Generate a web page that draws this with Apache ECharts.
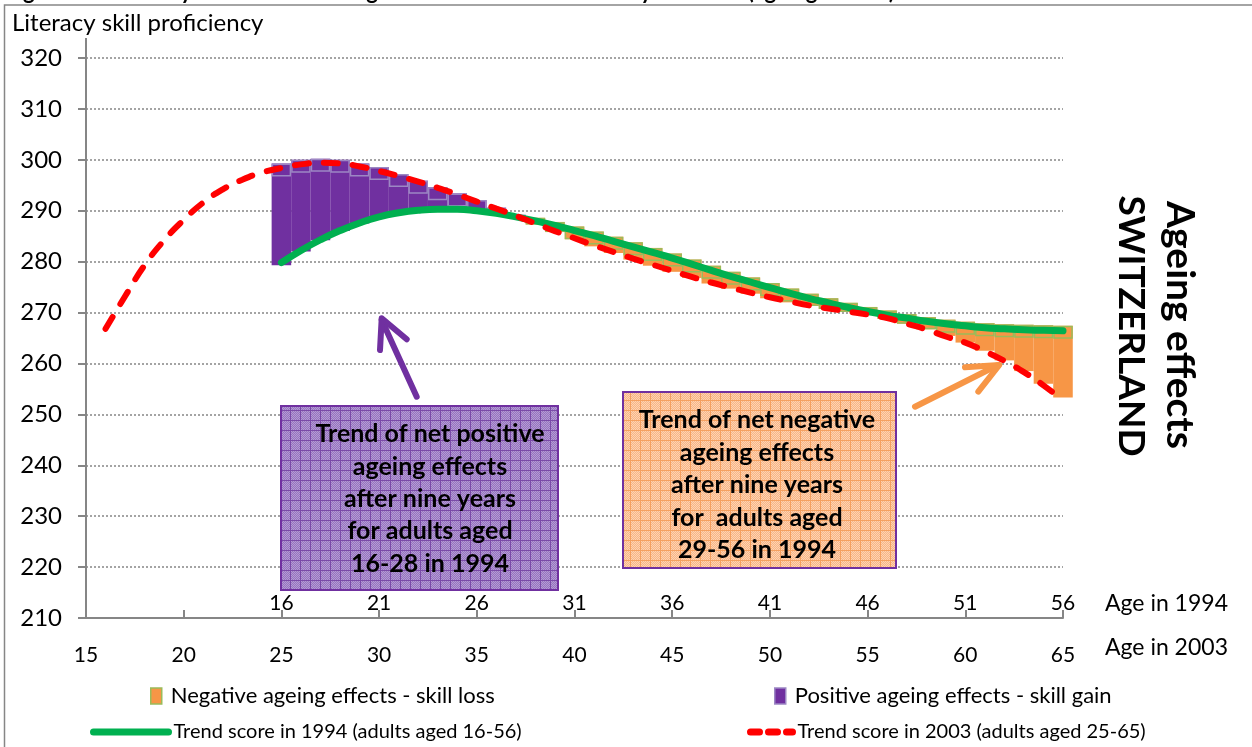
<!DOCTYPE html>
<html>
<head>
<meta charset="utf-8">
<script src="https://cdn.jsdelivr.net/npm/echarts@6/dist/echarts.min.js"></script>
<style>
html,body{margin:0;padding:0;background:#fff;}
#chart{width:1252px;height:747px;}
</style>
</head>
<body>
<div id="chart"></div>
<script>
// ---- Data ----
// Trend score in 2003 by age in 2003
const ages2003 = [16,17,18,19,20,21,22,23,24,25,26,27,28,29,30,31,32,33,34,35,36,37,38,39,40,41,42,43,44,45,46,47,48,49,50,51,52,53,54,55,56,57,58,59,60,61,62,63,64,65];
const trend2003 = [266.8,273.2,279.3,284.2,288.2,291.6,294.2,296.1,297.5,298.4,299.1,299.4,299.3,298.7,297.8,296.8,295.7,294.5,293.2,291.8,290.4,289.0,287.5,286.0,284.6,283.2,281.9,280.6,279.4,278.2,277.0,275.9,274.9,273.9,273.0,272.2,271.4,270.8,270.2,269.6,268.9,267.8,266.7,265.3,264.1,262.4,260.5,258.3,255.7,252.7];
// Trend score in 1994 by age in 1994
const ages1994 = [16,17,18,19,20,21,22,23,24,25,26,27,28,29,30,31,32,33,34,35,36,37,38,39,40,41,42,43,44,45,46,47,48,49,50,51,52,53,54,55,56];
const trend1994 = [279.8,282.2,284.3,286.1,287.6,288.8,289.6,290.1,290.3,290.3,290.0,289.5,288.8,288.0,287.1,286.1,285.1,284.0,282.9,281.8,280.7,279.5,278.3,277.1,276.0,274.9,273.8,272.8,271.9,271.0,270.2,269.5,268.9,268.3,267.8,267.4,267.0,266.8,266.6,266.5,266.4];
// Positive ageing effects (skill gain) columns, by age in 2003
const gainAges = [25,26,27,28,29,30,31,32,33,34,35,36,37];
const gainBottom = [279.3,282.0,284.2,286.0,287.5,288.7,289.5,290.0,290.2,290.2,289.9,289.4,288.7];
const gainTop = [299.3,300.0,300.2,300.0,299.3,298.6,297.2,295.9,294.6,293.4,292.1,290.6,289.2];
// Negative ageing effects (skill loss) columns, by age in 2003
const lossAges = [38,39,40,41,42,43,44,45,46,47,48,49,50,51,52,53,54,55,56,57,58,59,60,61,62,63,64,65];
const lossBottom = [287.3,285.8,284.4,283.0,281.7,280.4,279.2,278.0,276.8,275.7,274.7,273.7,272.8,272.0,271.3,270.7,270.1,269.5,268.8,267.8,266.7,265.4,264.1,262.5,260.6,258.5,256.0,253.3];
const lossTop = [288.6,287.8,286.9,285.9,284.9,283.8,282.7,281.6,280.4,279.2,278.0,276.9,275.8,274.7,273.7,272.8,271.9,271.1,270.4,269.7,269.1,268.6,268.2,267.9,267.7,267.6,267.5,267.4];
// Tick labels
const ageTicks2003 = [15,20,25,30,35,40,45,50,55,60,65];
const ageTicks1994 = [16,21,26,31,36,41,46,51,56];
const yTicks = [210,220,230,240,250,260,270,280,290,300,310,320];

const NAME_LOSS = 'Negative ageing effects - skill loss';
const NAME_GAIN = 'Positive ageing effects - skill gain';
const NAME_1994 = 'Trend score in 1994 (adults aged 16-56)';
const NAME_2003 = 'Trend score in 2003 (adults aged 25-65)';

// ---- Build series data ----
const gainData = gainAges.map((a, i) => [a, gainBottom[i], gainTop[i]]);
const lossData = lossAges.map((a, i) => [a, lossBottom[i], lossTop[i]]);
const line2003 = ages2003.map((a, i) => [a, trend2003[i]]);
const line1994 = ages1994.map((a, i) => [a, trend1994[i]]);

function makePattern(bg, dot, grid) {
  const c = document.createElement('canvas');
  c.width = 10; c.height = 10;
  const ctx = c.getContext('2d');
  ctx.fillStyle = bg; ctx.fillRect(0, 0, 10, 10);
  ctx.fillStyle = dot;
  for (let x = 0; x < 10; x++) for (let y = 0; y < 10; y++) if ((x + y) % 2 === 0) ctx.fillRect(x, y, 1, 1);
  ctx.fillStyle = grid;
  ctx.fillRect(0, 0, 10, 1); ctx.fillRect(0, 0, 1, 10);
  return c;
}
const purplePat = makePattern('#9674bf', '#b49bd4', '#7a4aa8');
const orangePat = makePattern('#f9b585', '#fcd3b3', '#f5a060');

const FONT = 'Lato, "Open Sans", sans-serif';
const GRAY = '#868686';

// each column: filled body from bottom to top, with a lighter outlined cap at its top
function columnRenderer(fill, stroke) {
  return function (params, api) {
    const x = api.value(0);
    const p1 = api.coord([x - 0.5, api.value(2)]);
    const p2 = api.coord([x + 0.5, api.value(1)]);
    const w = p2[0] - p1[0], h = p2[1] - p1[1];
    const capH = Math.min(13, h);
    return {
      type: 'group',
      children: [
        {type: 'rect', shape: {x: p1[0], y: p1[1], width: w, height: h}, style: {fill: fill}},
        {type: 'rect', shape: {x: p1[0] + 0.75, y: p1[1] + 0.75, width: w - 1.5, height: Math.max(capH - 1.5, 0.5)},
          style: {fill: null, stroke: stroke, lineWidth: 1.5}}
      ]
    };
  };
}

const chart = echarts.init(document.getElementById('chart'), null, {renderer: 'canvas'});
const legendText1 = {fontFamily: FONT, fontSize: 22, color: '#000'};
const legendText2 = {fontFamily: FONT, fontSize: 20, color: '#000'};

chart.setOption({
  animation: false,
  backgroundColor: '#fff',
  textStyle: {fontFamily: FONT},
  grid: {left: 86, right: 189, top: 58, bottom: 129, containLabel: false},
  xAxis: [{
    type: 'value', position: 'bottom', min: 15, max: 65, interval: 5,
    name: 'Age in 2003', nameLocation: 'end', nameGap: 42,
    nameTextStyle: {fontFamily: FONT, fontSize: 23, color: '#000', verticalAlign: 'top', padding: [18, 0, 0, 0]},
    axisLine: {show: true, lineStyle: {color: GRAY, width: 2}},
    axisTick: {show: true, inside: true, length: 8, lineStyle: {color: GRAY, width: 2}},
    axisLabel: {fontFamily: FONT, fontSize: 21, color: '#000', margin: 27,
      formatter: v => ageTicks2003.indexOf(v) >= 0 ? String(v) : ''},
    splitLine: {show: false}
  }, {
    type: 'value', position: 'bottom', min: 6, max: 56, interval: 5,
    name: 'Age in 1994', nameLocation: 'end', nameGap: 42,
    nameTextStyle: {fontFamily: FONT, fontSize: 23, color: '#000', verticalAlign: 'bottom', padding: [0, 0, 3, 0]},
    axisLine: {show: false}, axisTick: {show: false}, splitLine: {show: false},
    axisLabel: {inside: true, margin: 4, fontFamily: FONT, fontSize: 21, color: '#000',
      formatter: v => ageTicks1994.indexOf(v) >= 0 ? String(v) : ''}
  }],
  yAxis: {
    type: 'value', min: 210, max: 320, interval: 10,
    axisLine: {show: true, lineStyle: {color: GRAY, width: 2}},
    axisTick: {show: true, length: 8, lineStyle: {color: GRAY, width: 2}},
    axisLabel: {fontFamily: FONT, fontSize: 24, color: '#000', margin: 24,
      formatter: v => yTicks.indexOf(v) >= 0 ? String(v) : ''},
    splitLine: {show: true, lineStyle: {color: GRAY, width: 1.5, type: [2, 2]}}
  },
  legend: [
    {data: [{name: NAME_LOSS, icon: 'rect'}], left: 150, top: 685, padding: 0, itemWidth: 11, itemHeight: 16, selectedMode: false,
      itemStyle: {color: '#f79646', borderColor: '#9bbb59', borderWidth: 1.5},
      textStyle: Object.assign({padding: [0, 0, 0, 4]}, legendText1)},
    {data: [{name: NAME_GAIN, icon: 'rect'}], left: 774, top: 685, padding: 0, itemWidth: 11, itemHeight: 16, selectedMode: false,
      itemStyle: {color: '#7030a0', borderColor: '#9c87c4', borderWidth: 1.5},
      textStyle: Object.assign({padding: [0, 0, 0, 4]}, legendText1)},
    {data: [NAME_1994], left: 90, top: 722, padding: 0, itemWidth: 75, itemHeight: 16, selectedMode: false,
      itemStyle: {color: 'rgba(0,0,0,0)', borderWidth: 0},
      lineStyle: {width: 7, color: '#00b050', cap: 'round'}, textStyle: legendText2},
    {data: [NAME_2003], left: 747, top: 722, padding: 0, itemWidth: 42, itemHeight: 16, selectedMode: false,
      itemStyle: {color: 'rgba(0,0,0,0)', borderWidth: 0},
      lineStyle: {width: 7, color: '#ff0000', type: [9, 9], cap: 'round'}, textStyle: legendText2}
  ],
  series: [
    {name: NAME_LOSS, type: 'custom', xAxisIndex: 0, data: lossData, renderItem: columnRenderer('#f79646', '#9bbb59'),
      encode: {x: 0, y: [1, 2]}, itemStyle: {color: '#f79646'}, z: 2},
    {name: NAME_GAIN, type: 'custom', xAxisIndex: 0, data: gainData, renderItem: columnRenderer('#7030a0', '#9c87c4'),
      encode: {x: 0, y: [1, 2]}, itemStyle: {color: '#7030a0'}, z: 2},
    {name: NAME_1994, type: 'line', xAxisIndex: 1, data: line1994, smooth: true, symbol: 'none',
      lineStyle: {color: '#00b050', width: 7, cap: 'round'}, itemStyle: {color: '#00b050'}, z: 3},
    {name: NAME_2003, type: 'line', xAxisIndex: 0, data: line2003, smooth: true, symbol: 'none',
      lineStyle: {color: '#ff0000', width: 6, type: [14, 15], cap: 'round'}, itemStyle: {color: '#ff0000'}, z: 4}
  ],
  graphic: [
    {type: 'rect', shape: {x: 4.5, y: 5, width: 1400, height: 900}, style: {fill: null, stroke: GRAY, lineWidth: 1.5}, z: 0, silent: true},
    {type: 'text', x: 5, y: 3, style: {text: 'Figure 3.8: Literacy scores of adults aged 16-56 in 1994 and nine years later (ageing effects)',
      font: 'bold 22px ' + FONT, fill: '#000', verticalAlign: 'bottom', align: 'left'}},
    {type: 'line', shape: {x1: 86, y1: 38, x2: 86, y2: 58}, style: {stroke: GRAY, lineWidth: 2}},
    {type: 'text', x: 12, y: 23, style: {text: 'Literacy skill proficiency', font: '24px ' + FONT, fill: '#000', verticalAlign: 'middle'}},
    // purple annotation box
    {type: 'rect', shape: {x: 281, y: 406, width: 277, height: 184},
      style: {fill: {type: 'pattern', image: purplePat, repeat: 'repeat'}, stroke: '#7030a0', lineWidth: 2}, z: 10},
    {type: 'text', x: 430, y: 499, z: 11, style: {text: 'Trend of net positive\nageing effects\nafter nine years\nfor adults aged\n16-28 in 1994',
      font: 'bold 25px ' + FONT, fill: '#000', align: 'center', verticalAlign: 'middle', lineHeight: 32.3}},
    // orange annotation box
    {type: 'rect', shape: {x: 623, y: 392, width: 273, height: 176},
      style: {fill: {type: 'pattern', image: orangePat, repeat: 'repeat'}, stroke: '#7030a0', lineWidth: 2}, z: 10},
    {type: 'text', x: 757, y: 485, z: 11, style: {text: 'Trend of net negative\nageing effects\nafter nine years\nfor  adults aged\n29-56 in 1994',
      font: 'bold 25px ' + FONT, fill: '#000', align: 'center', verticalAlign: 'middle', lineHeight: 32.5}},
    // arrows
    {type: 'polyline', z: 10, shape: {points: [[416.7, 396.7], [381.7, 320]]}, style: {stroke: '#7030a0', lineWidth: 6, lineCap: 'round', fill: null}},
    {type: 'polyline', z: 10, shape: {points: [[380, 350], [381.7, 318.3], [406.7, 339.3]]}, style: {stroke: '#7030a0', lineWidth: 6, lineCap: 'round', lineJoin: 'round', fill: null}},
    {type: 'polyline', z: 10, shape: {points: [[915, 406.7], [997, 365.5]]}, style: {stroke: '#f79646', lineWidth: 6, lineCap: 'round', fill: null}},
    {type: 'polyline', z: 10, shape: {points: [[965, 367.3], [999.3, 365], [978.3, 391.7]]}, style: {stroke: '#f79646', lineWidth: 6, lineCap: 'round', lineJoin: 'round', fill: null}},
    // vertical titles
    {type: 'text', x: 1180, y: 325, rotation: -Math.PI / 2, style: {text: 'Ageing effects', font: 'bold 39px ' + FONT, fill: '#000', align: 'center', verticalAlign: 'middle'}},
    {type: 'text', x: 1131, y: 326, rotation: -Math.PI / 2, style: {text: 'SWITZERLAND', font: 'bold 37px ' + FONT, fill: '#000', align: 'center', verticalAlign: 'middle'}}
  ]
});
</script>
</body>
</html>
